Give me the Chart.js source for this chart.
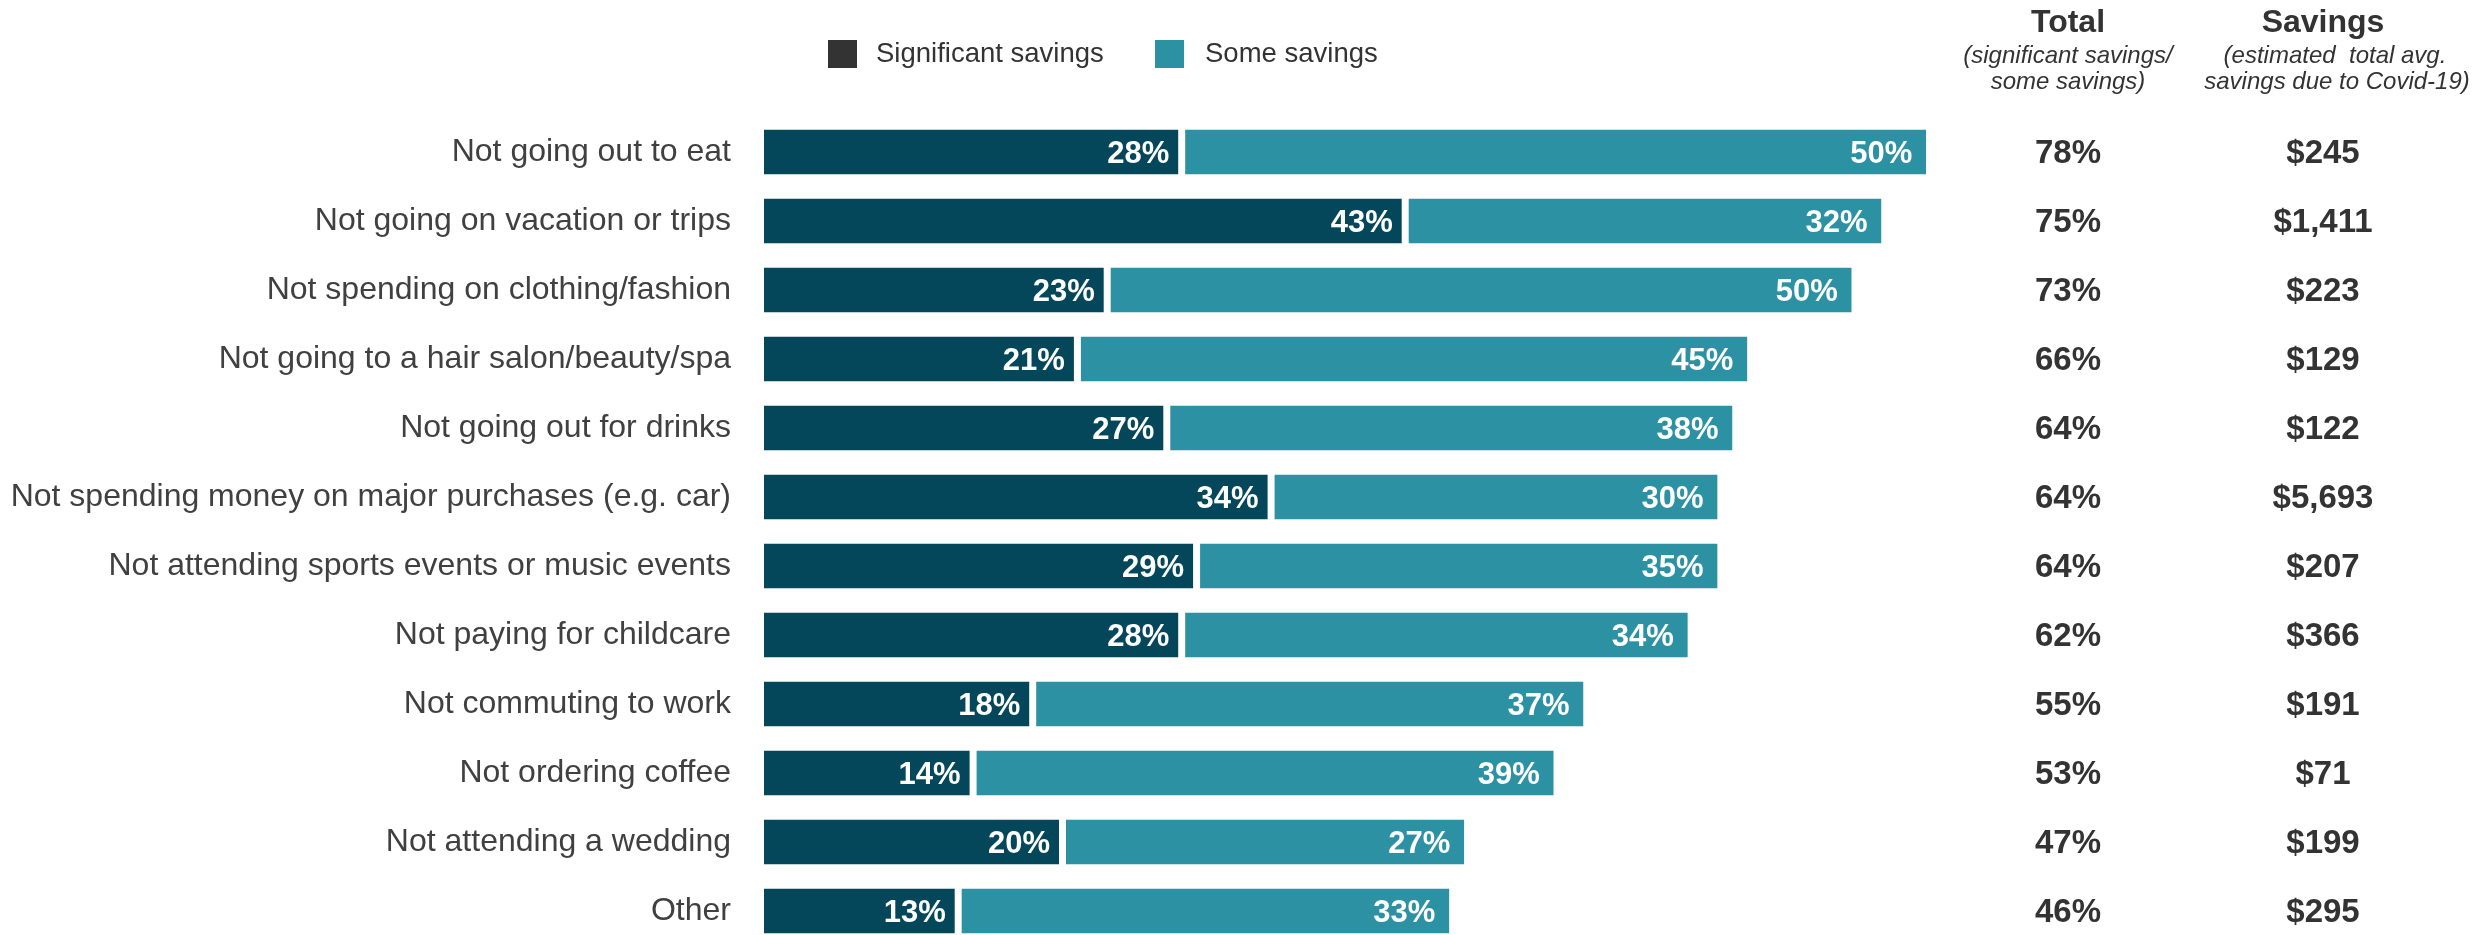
<!DOCTYPE html>
<html>
<head>
<meta charset="utf-8">
<script src="https://cdn.jsdelivr.net/npm/chart.js@4.4.1/dist/chart.umd.min.js"></script>
<style>
  html, body { margin: 0; padding: 0; background: #fff; overflow: hidden; }
  #wrap { width: 2476px; height: 950px; }
</style>
</head>
<body>
<div id="wrap"><canvas id="savingsChart" width="2476" height="950"></canvas></div>
<script>
const categories = [
    'Not going out to eat',
    'Not going on vacation or trips',
    'Not spending on clothing/fashion',
    'Not going to a hair salon/beauty/spa',
    'Not going out for drinks',
    'Not spending money on major purchases (e.g. car)',
    'Not attending sports events or music events',
    'Not paying for childcare',
    'Not commuting to work',
    'Not ordering coffee',
    'Not attending a wedding',
    'Other'
];
const significantSavings = [28, 43, 23, 21, 27, 34, 29, 28, 18, 14, 20, 13];
const someSavings = [50, 32, 50, 45, 38, 30, 35, 34, 37, 39, 27, 33];
const totalPct = [78, 75, 73, 66, 64, 64, 64, 62, 55, 53, 47, 46];
const avgSavings = ['$245', '$1,411', '$223', '$129', '$122', '$5,693', '$207', '$366', '$191', '$71', '$199', '$295'];

const DARK = '#04475b';
const TEAL = '#2b91a3';
const TEXT = '#333333';
const FONT = "'Liberation Sans', Arial, sans-serif";

// white % labels at the right end of each bar segment
const barLabels = {
    id: 'barLabels',
    afterDatasetsDraw(chart) {
        const ctx = chart.ctx;
        ctx.save();
        ctx.font = `bold 31px ${FONT}`;
        ctx.fillStyle = '#ffffff';
        ctx.textAlign = 'right';
        ctx.textBaseline = 'middle';
        chart.data.datasets.forEach((ds, i) => {
            const gap = i === 0 ? 12 : 14;
            chart.getDatasetMeta(i).data.forEach((bar, j) => {
                ctx.fillText(ds.data[j] + '%', bar.x - gap, bar.y + 2);
            });
        });
        ctx.restore();
    }
};

// legend + the two side columns (Total / Savings)
const sideColumns = {
    id: 'sideColumns',
    afterDraw(chart) {
        const ctx = chart.ctx;
        const yScale = chart.scales.y;
        const totalX = 2068;
        const savingsX = 2323;
        ctx.save();

        // legend
        ctx.textBaseline = 'middle';
        ctx.textAlign = 'left';
        ctx.font = `27.5px ${FONT}`;
        ctx.fillStyle = TEXT;
        ctx.fillRect(828, 40, 29, 28);
        ctx.fillText('Significant savings', 876, 54);
        ctx.fillStyle = TEAL;
        ctx.fillRect(1155, 40, 29, 28);
        ctx.fillStyle = TEXT;
        ctx.fillText('Some savings', 1205, 54);

        // headers
        ctx.textAlign = 'center';
        ctx.font = `bold 32px ${FONT}`;
        ctx.fillText('Total', totalX, 23);
        ctx.fillText('Savings', savingsX, 23);
        ctx.font = `italic 24px ${FONT}`;
        ctx.fillText('(significant savings/', totalX, 56);
        ctx.fillText('some savings)', totalX, 82);
        ctx.fillText('(estimated  total avg.', savingsX + 12, 56);
        ctx.fillText('savings due to Covid-19)', savingsX + 14, 82);

        // values per row
        ctx.font = `bold 33px ${FONT}`;
        categories.forEach((c, i) => {
            const y = yScale.getPixelForValue(i) + 2;
            ctx.fillText(totalPct[i] + '%', totalX, y);
            ctx.fillText(avgSavings[i], savingsX, y);
        });
        ctx.restore();
    }
};

const ctx = document.getElementById('savingsChart').getContext('2d');
new Chart(ctx, {
    type: 'bar',
    data: {
        labels: categories,
        datasets: [
            {
                label: 'Significant savings',
                data: significantSavings,
                backgroundColor: DARK,
                borderColor: '#ffffff',
                borderWidth: { top: 0, bottom: 0, left: 0, right: 3 },
                borderSkipped: false,
                categoryPercentage: 0.652,
                barPercentage: 1
            },
            {
                label: 'Some savings',
                data: someSavings,
                backgroundColor: TEAL,
                borderColor: '#ffffff',
                borderWidth: { top: 0, bottom: 0, left: 4, right: 0 },
                borderSkipped: false,
                categoryPercentage: 0.652,
                barPercentage: 1
            }
        ]
    },
    options: {
        indexAxis: 'y',
        responsive: false,
        animation: false,
        devicePixelRatio: 1,
        layout: {
            padding: { left: 0, right: 222, top: 117.5, bottom: 4.5 }
        },
        scales: {
            x: {
                stacked: true,
                min: 0,
                max: 100,
                display: false
            },
            y: {
                stacked: true,
                grid: { display: false, drawTicks: false },
                border: { display: false },
                ticks: {
                    color: '#404040',
                    padding: 33,
                    font: { family: FONT, size: 32 }
                },
                afterFit(scale) {
                    scale.width = 764;
                    // no extra room for label overflow at the ends
                    scale.paddingTop = 0;
                    scale.paddingBottom = 0;
                }
            }
        },
        plugins: {
            legend: { display: false },
            tooltip: { enabled: false }
        }
    },
    plugins: [barLabels, sideColumns]
});
</script>
</body>
</html>
